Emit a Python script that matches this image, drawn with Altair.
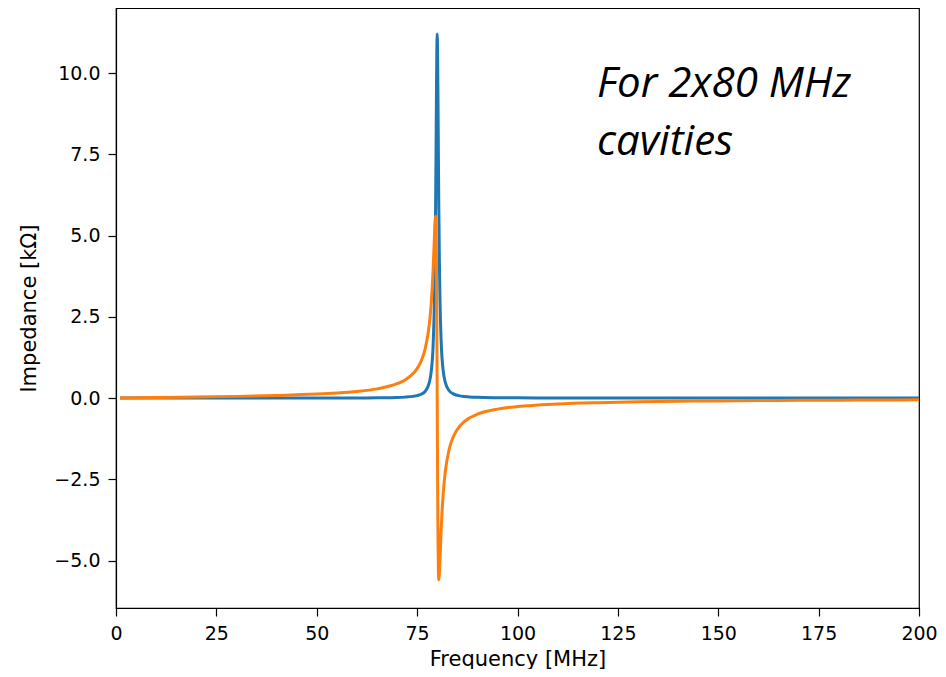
import altair as alt
import pandas as pd

# Frequencies [MHz] sampled along the curves
FREQ = [1, 10, 20, 30, 40, 50, 55, 60, 65, 70, 72, 74, 75, 76, 77, 78, 78.5, 79,
        79.3, 79.45, 79.6, 79.7, 79.8, 79.9, 80.0, 80.1, 80.2, 80.3, 80.4, 80.55,
        80.7, 81, 81.5, 82, 83, 84, 86, 88, 90, 95, 100, 110, 120, 130, 140, 150,
        160, 170, 180, 190, 200]
# Real part of impedance [kOhm] (blue)
RE_Z = [0.0, 0.0, 0.0, 0.0, 0.0005, 0.0013, 0.0021, 0.0036, 0.0071, 0.017, 0.028,
        0.051, 0.074, 0.117, 0.208, 0.464, 0.803, 1.669, 2.956, 4.121, 5.873, 7.42,
        9.134, 10.60, 11.2, 10.60, 9.142, 7.438, 5.901, 4.156, 2.995, 1.704, 0.832,
        0.487, 0.224, 0.129, 0.059, 0.034, 0.022, 0.0104, 0.0061, 0.003, 0.0018,
        0.0012, 0.0009, 0.0007, 0.0005, 0.0004, 0.0003, 0.0003, 0.0003]
# Imaginary part of impedance [kOhm] (orange)
IM_Z = [0.0015, 0.015, 0.031, 0.051, 0.079, 0.121, 0.154, 0.202, 0.282, 0.440,
        0.557, 0.752, 0.906, 1.136, 1.513, 2.231, 2.890, 3.988, 4.936, 5.402, 5.591,
        5.296, 4.344, 2.52, 0.0, -2.517, -4.337, -5.290, -5.592, -5.410, -4.957,
        -4.023, -2.937, -2.283, -1.569, -1.194, -0.810, -0.616, -0.498, -0.341,
        -0.262, -0.182, -0.1415, -0.1168, -0.100, -0.0879, -0.0786, -0.0713,
        -0.0653, -0.0603, -0.0561]

X_TICKS = [0, 25, 50, 75, 100, 125, 150, 175, 200]
Y_TICKS = [-5.0, -2.5, 0.0, 2.5, 5.0, 7.5, 10.0]
X_DOMAIN = [0, 200]
Y_DOMAIN = [-6.46, 12.0]

NOTE_LINES = ["For 2x80 MHz", "cavities"]
NOTE_X = [119.8]
NOTE_Y = [9.25]

re_df = pd.DataFrame({"f": FREQ, "z": RE_Z})
im_df = pd.DataFrame({"f": FREQ, "z": IM_Z})
note_df = pd.DataFrame({"f": NOTE_X, "z": NOTE_Y, "t": [NOTE_LINES]})

x_enc = alt.X("f:Q", scale=alt.Scale(domain=X_DOMAIN, nice=False, zero=False),
              axis=alt.Axis(values=X_TICKS, format="d", title="Frequency [MHz]",
                            labelFlush=False))
y_enc = alt.Y("z:Q", scale=alt.Scale(domain=Y_DOMAIN, nice=False, zero=False),
              axis=alt.Axis(values=Y_TICKS, format=".1f", title="Impedance [kΩ]"))

re_line = alt.Chart(re_df).mark_line(color="#1f77b4", strokeWidth=3, clip=True,
                                     interpolate="monotone").encode(
    x=x_enc, y=y_enc, order="f:Q")
im_line = alt.Chart(im_df).mark_line(color="#ff7f0e", strokeWidth=3, clip=True,
                                     interpolate="monotone").encode(
    x="f:Q", y="z:Q", order="f:Q")
note = alt.Chart(note_df).mark_text(
    align="left", baseline="alphabetic", font="Open Sans", fontStyle="italic",
    fontSize=42, lineHeight=58, color="black"
).encode(x="f:Q", y="z:Q", text="t")

chart = alt.layer(re_line, im_line, note).properties(
    width=803, height=600,
    autosize=alt.AutoSizeParams(type="none"),
    padding={"left": 108, "top": 0, "right": 19, "bottom": 61},
).configure_view(
    stroke="black", strokeWidth=1.2
).configure_axis(
    grid=False, domainColor="black", domainWidth=1.2, tickColor="black",
    tickWidth=1.2, tickSize=8, labelColor="black", labelFont="DejaVu Sans",
    labelFontSize=19, labelPadding=8, titleFont="DejaVu Sans", titleFontSize=21,
    titleFontWeight="normal", titleColor="black"
).configure_axisX(
    labelBaseline="top", titlePadding=5
).configure_axisY(
    titlePadding=14
)

chart.save("out.html", embed_options={"renderer": "svg", "actions": False})
